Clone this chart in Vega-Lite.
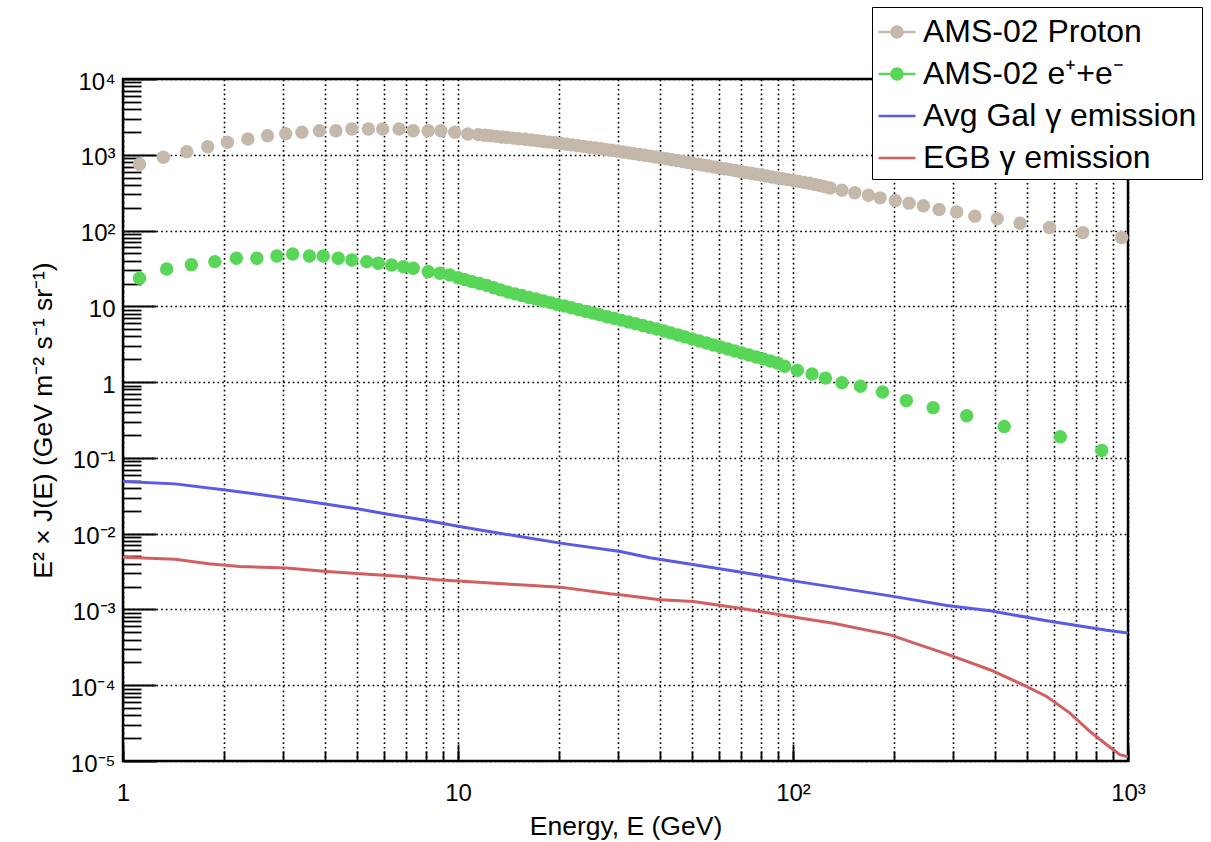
{
"$schema": "https://vega.github.io/schema/vega-lite/v6.json",
"width": 1005, "height": 682,
"autosize": {"type": "none"},
"padding": {"left": 123, "top": 79, "right": 83, "bottom": 81},
"background": "white",
"config": {
 "view": {"stroke": "black", "strokeWidth": 2.5},
 "font": "Liberation Sans",
 "axis": {"domain": false, "tickColor": "black", "tickWidth": 1.8, "gridColor": "black", "gridDash": [1.7, 3], "gridWidth": 1.6, "gridOpacity": 1, "labelColor": "black", "titleColor": "black", "labelFont": "Liberation Sans", "titleFont": "Liberation Sans", "titleFontWeight": "normal", "labelFontSize": 24, "titleFontSize": 26.5}
},
"datasets": {
 "points": [
  {"s":"AMS-02 Proton","E":1.12,"v":750},{"s":"AMS-02 Proton","E":1.32,"v":927},{"s":"AMS-02 Proton","E":1.55,"v":1099},{"s":"AMS-02 Proton","E":1.79,"v":1279},{"s":"AMS-02 Proton","E":2.05,"v":1462},{"s":"AMS-02 Proton","E":2.36,"v":1616},{"s":"AMS-02 Proton","E":2.70,"v":1786},{"s":"AMS-02 Proton","E":3.06,"v":1897},{"s":"AMS-02 Proton","E":3.42,"v":1982},{"s":"AMS-02 Proton","E":3.86,"v":2080},{"s":"AMS-02 Proton","E":4.32,"v":2080},{"s":"AMS-02 Proton","E":4.82,"v":2188},{"s":"AMS-02 Proton","E":5.40,"v":2188},{"s":"AMS-02 Proton","E":5.96,"v":2188},{"s":"AMS-02 Proton","E":6.67,"v":2188},{"s":"AMS-02 Proton","E":7.35,"v":2080},{"s":"AMS-02 Proton","E":8.15,"v":2080},{"s":"AMS-02 Proton","E":8.89,"v":2080},{"s":"AMS-02 Proton","E":9.78,"v":1982},{"s":"AMS-02 Proton","E":10.7,"v":1880},{"s":"AMS-02 Proton","E":11.5,"v":1845},{"s":"AMS-02 Proton","E":12.0,"v":1810},{"s":"AMS-02 Proton","E":12.5,"v":1780},{"s":"AMS-02 Proton","E":13.0,"v":1750},{"s":"AMS-02 Proton","E":13.5,"v":1720},{"s":"AMS-02 Proton","E":14.0,"v":1690},{"s":"AMS-02 Proton","E":14.6,"v":1660},{"s":"AMS-02 Proton","E":15.2,"v":1630},{"s":"AMS-02 Proton","E":15.9,"v":1600},{"s":"AMS-02 Proton","E":16.6,"v":1565},{"s":"AMS-02 Proton","E":17.3,"v":1530},{"s":"AMS-02 Proton","E":18.0,"v":1500},{"s":"AMS-02 Proton","E":18.7,"v":1470},{"s":"AMS-02 Proton","E":19.5,"v":1440},{"s":"AMS-02 Proton","E":20.3,"v":1410},{"s":"AMS-02 Proton","E":21.1,"v":1380},{"s":"AMS-02 Proton","E":21.9,"v":1350},{"s":"AMS-02 Proton","E":22.8,"v":1320},{"s":"AMS-02 Proton","E":23.7,"v":1290},{"s":"AMS-02 Proton","E":24.7,"v":1260},{"s":"AMS-02 Proton","E":25.7,"v":1230},{"s":"AMS-02 Proton","E":26.7,"v":1200},{"s":"AMS-02 Proton","E":27.7,"v":1170},{"s":"AMS-02 Proton","E":28.8,"v":1145},{"s":"AMS-02 Proton","E":29.9,"v":1120},{"s":"AMS-02 Proton","E":31.1,"v":1090},{"s":"AMS-02 Proton","E":32.3,"v":1060},{"s":"AMS-02 Proton","E":33.5,"v":1035},{"s":"AMS-02 Proton","E":34.8,"v":1010},{"s":"AMS-02 Proton","E":36.1,"v":985},{"s":"AMS-02 Proton","E":37.5,"v":960},{"s":"AMS-02 Proton","E":38.9,"v":935},{"s":"AMS-02 Proton","E":40.4,"v":910},{"s":"AMS-02 Proton","E":41.9,"v":885},{"s":"AMS-02 Proton","E":43.5,"v":860},{"s":"AMS-02 Proton","E":45.1,"v":838},{"s":"AMS-02 Proton","E":46.8,"v":815},{"s":"AMS-02 Proton","E":48.5,"v":792},{"s":"AMS-02 Proton","E":50.3,"v":770},{"s":"AMS-02 Proton","E":52.2,"v":750},{"s":"AMS-02 Proton","E":54.1,"v":730},{"s":"AMS-02 Proton","E":56.1,"v":710},{"s":"AMS-02 Proton","E":58.2,"v":690},{"s":"AMS-02 Proton","E":60.3,"v":672},{"s":"AMS-02 Proton","E":62.5,"v":655},{"s":"AMS-02 Proton","E":64.8,"v":637},{"s":"AMS-02 Proton","E":67.2,"v":620},{"s":"AMS-02 Proton","E":69.7,"v":602},{"s":"AMS-02 Proton","E":72.3,"v":585},{"s":"AMS-02 Proton","E":74.9,"v":570},{"s":"AMS-02 Proton","E":77.7,"v":555},{"s":"AMS-02 Proton","E":80.5,"v":540},{"s":"AMS-02 Proton","E":83.4,"v":525},{"s":"AMS-02 Proton","E":86.5,"v":510},{"s":"AMS-02 Proton","E":89.7,"v":495},{"s":"AMS-02 Proton","E":93.0,"v":482},{"s":"AMS-02 Proton","E":96.4,"v":470},{"s":"AMS-02 Proton","E":100,"v":457},{"s":"AMS-02 Proton","E":104,"v":445},{"s":"AMS-02 Proton","E":108,"v":432},{"s":"AMS-02 Proton","E":112,"v":420},{"s":"AMS-02 Proton","E":116,"v":407},{"s":"AMS-02 Proton","E":120,"v":395},{"s":"AMS-02 Proton","E":124,"v":380},{"s":"AMS-02 Proton","E":129,"v":365},{"s":"AMS-02 Proton","E":140,"v":340},{"s":"AMS-02 Proton","E":153,"v":315},{"s":"AMS-02 Proton","E":168,"v":293},{"s":"AMS-02 Proton","E":182,"v":270},{"s":"AMS-02 Proton","E":202,"v":250},{"s":"AMS-02 Proton","E":222,"v":230},{"s":"AMS-02 Proton","E":245,"v":212},{"s":"AMS-02 Proton","E":273,"v":190},{"s":"AMS-02 Proton","E":308,"v":176},{"s":"AMS-02 Proton","E":349,"v":155},{"s":"AMS-02 Proton","E":407,"v":143},{"s":"AMS-02 Proton","E":476,"v":125},{"s":"AMS-02 Proton","E":583,"v":110},{"s":"AMS-02 Proton","E":733,"v":94},{"s":"AMS-02 Proton","E":958,"v":81},
  {"s":"AMS-02 e⁺+e⁻","E":1.12,"v":23.5},{"s":"AMS-02 e⁺+e⁻","E":1.35,"v":31.1},{"s":"AMS-02 e⁺+e⁻","E":1.60,"v":35.5},{"s":"AMS-02 e⁺+e⁻","E":1.88,"v":38.9},{"s":"AMS-02 e⁺+e⁻","E":2.18,"v":43.1},{"s":"AMS-02 e⁺+e⁻","E":2.51,"v":43.1},{"s":"AMS-02 e⁺+e⁻","E":2.88,"v":46.2},{"s":"AMS-02 e⁺+e⁻","E":3.21,"v":49.1},{"s":"AMS-02 e⁺+e⁻","E":3.60,"v":46.2},{"s":"AMS-02 e⁺+e⁻","E":3.96,"v":46.2},{"s":"AMS-02 e⁺+e⁻","E":4.39,"v":43.1},{"s":"AMS-02 e⁺+e⁻","E":4.82,"v":40.9},{"s":"AMS-02 e⁺+e⁻","E":5.34,"v":38.9},{"s":"AMS-02 e⁺+e⁻","E":5.78,"v":37.0},{"s":"AMS-02 e⁺+e⁻","E":6.34,"v":35.2},{"s":"AMS-02 e⁺+e⁻","E":6.87,"v":33.4},{"s":"AMS-02 e⁺+e⁻","E":7.35,"v":31.8},{"s":"AMS-02 e⁺+e⁻","E":8.15,"v":28.7},{"s":"AMS-02 e⁺+e⁻","E":8.83,"v":27.3},{"s":"AMS-02 e⁺+e⁻","E":9.45,"v":25.9},{"s":"AMS-02 e⁺+e⁻","E":10.0,"v":23.8},{"s":"AMS-02 e⁺+e⁻","E":10.5,"v":22.5},{"s":"AMS-02 e⁺+e⁻","E":11.0,"v":21.2},{"s":"AMS-02 e⁺+e⁻","E":11.6,"v":20.0},{"s":"AMS-02 e⁺+e⁻","E":12.2,"v":18.9},{"s":"AMS-02 e⁺+e⁻","E":12.8,"v":17.6},{"s":"AMS-02 e⁺+e⁻","E":13.4,"v":16.5},{"s":"AMS-02 e⁺+e⁻","E":14.1,"v":15.4},{"s":"AMS-02 e⁺+e⁻","E":14.8,"v":14.6},{"s":"AMS-02 e⁺+e⁻","E":15.5,"v":13.9},{"s":"AMS-02 e⁺+e⁻","E":16.3,"v":13.1},{"s":"AMS-02 e⁺+e⁻","E":17.1,"v":12.5},{"s":"AMS-02 e⁺+e⁻","E":18.0,"v":11.8},{"s":"AMS-02 e⁺+e⁻","E":18.9,"v":11.2},{"s":"AMS-02 e⁺+e⁻","E":19.8,"v":10.6},{"s":"AMS-02 e⁺+e⁻","E":20.8,"v":10.1},{"s":"AMS-02 e⁺+e⁻","E":21.8,"v":9.57},{"s":"AMS-02 e⁺+e⁻","E":22.9,"v":9.06},{"s":"AMS-02 e⁺+e⁻","E":24.1,"v":8.57},{"s":"AMS-02 e⁺+e⁻","E":25.3,"v":8.13},{"s":"AMS-02 e⁺+e⁻","E":26.5,"v":7.73},{"s":"AMS-02 e⁺+e⁻","E":27.9,"v":7.30},{"s":"AMS-02 e⁺+e⁻","E":29.3,"v":6.93},{"s":"AMS-02 e⁺+e⁻","E":30.7,"v":6.58},{"s":"AMS-02 e⁺+e⁻","E":32.3,"v":6.22},{"s":"AMS-02 e⁺+e⁻","E":33.9,"v":5.89},{"s":"AMS-02 e⁺+e⁻","E":35.6,"v":5.59},{"s":"AMS-02 e⁺+e⁻","E":37.3,"v":5.30},{"s":"AMS-02 e⁺+e⁻","E":39.2,"v":5.02},{"s":"AMS-02 e⁺+e⁻","E":41.2,"v":4.72},{"s":"AMS-02 e⁺+e⁻","E":43.2,"v":4.46},{"s":"AMS-02 e⁺+e⁻","E":45.4,"v":4.19},{"s":"AMS-02 e⁺+e⁻","E":47.6,"v":3.95},{"s":"AMS-02 e⁺+e⁻","E":50.0,"v":3.71},{"s":"AMS-02 e⁺+e⁻","E":52.5,"v":3.49},{"s":"AMS-02 e⁺+e⁻","E":55.2,"v":3.28},{"s":"AMS-02 e⁺+e⁻","E":57.9,"v":3.09},{"s":"AMS-02 e⁺+e⁻","E":60.8,"v":2.91},{"s":"AMS-02 e⁺+e⁻","E":63.9,"v":2.73},{"s":"AMS-02 e⁺+e⁻","E":67.0,"v":2.58},{"s":"AMS-02 e⁺+e⁻","E":70.4,"v":2.42},{"s":"AMS-02 e⁺+e⁻","E":73.9,"v":2.28},{"s":"AMS-02 e⁺+e⁻","E":77.6,"v":2.15},{"s":"AMS-02 e⁺+e⁻","E":81.5,"v":2.02},{"s":"AMS-02 e⁺+e⁻","E":85.6,"v":1.90},{"s":"AMS-02 e⁺+e⁻","E":89.9,"v":1.79},{"s":"AMS-02 e⁺+e⁻","E":94.4,"v":1.62},{"s":"AMS-02 e⁺+e⁻","E":103,"v":1.43},{"s":"AMS-02 e⁺+e⁻","E":114,"v":1.28},{"s":"AMS-02 e⁺+e⁻","E":125,"v":1.13},{"s":"AMS-02 e⁺+e⁻","E":140,"v":0.98},{"s":"AMS-02 e⁺+e⁻","E":159,"v":0.88},{"s":"AMS-02 e⁺+e⁻","E":185,"v":0.74},{"s":"AMS-02 e⁺+e⁻","E":218,"v":0.57},{"s":"AMS-02 e⁺+e⁻","E":262,"v":0.46},{"s":"AMS-02 e⁺+e⁻","E":330,"v":0.36},{"s":"AMS-02 e⁺+e⁻","E":427,"v":0.26},{"s":"AMS-02 e⁺+e⁻","E":628,"v":0.19},{"s":"AMS-02 e⁺+e⁻","E":835,"v":0.125}
 ],
 "lines": [
  {"s":"Avg Gal γ emission","E":1,"v":0.0487},{"s":"Avg Gal γ emission","E":1.43,"v":0.0454},{"s":"Avg Gal γ emission","E":2.02,"v":0.0378},{"s":"Avg Gal γ emission","E":3.08,"v":0.0294},{"s":"Avg Gal γ emission","E":4.06,"v":0.0245},{"s":"Avg Gal γ emission","E":5.10,"v":0.0210},{"s":"Avg Gal γ emission","E":6.12,"v":0.0182},{"s":"Avg Gal γ emission","E":8.07,"v":0.0149},{"s":"Avg Gal γ emission","E":10.1,"v":0.0124},{"s":"Avg Gal γ emission","E":15.3,"v":0.00916},{"s":"Avg Gal γ emission","E":20.2,"v":0.0075},{"s":"Avg Gal γ emission","E":30.5,"v":0.0058},{"s":"Avg Gal γ emission","E":37.4,"v":0.0048},{"s":"Avg Gal γ emission","E":69.5,"v":0.00313},{"s":"Avg Gal γ emission","E":98,"v":0.00242},{"s":"Avg Gal γ emission","E":195,"v":0.00151},{"s":"Avg Gal γ emission","E":288,"v":0.00113},{"s":"Avg Gal γ emission","E":387,"v":0.00096},{"s":"Avg Gal γ emission","E":572,"v":0.000708},{"s":"Avg Gal γ emission","E":864,"v":0.00053},{"s":"Avg Gal γ emission","E":1000,"v":0.00049},
  {"s":"EGB γ emission","E":1,"v":0.0049},{"s":"EGB γ emission","E":1.43,"v":0.00461},{"s":"EGB γ emission","E":1.80,"v":0.0040},{"s":"EGB γ emission","E":2.23,"v":0.00368},{"s":"EGB γ emission","E":3.08,"v":0.00351},{"s":"EGB γ emission","E":4.06,"v":0.00316},{"s":"EGB γ emission","E":5.10,"v":0.00295},{"s":"EGB γ emission","E":6.87,"v":0.00272},{"s":"EGB γ emission","E":8.64,"v":0.00246},{"s":"EGB γ emission","E":10.6,"v":0.00233},{"s":"EGB γ emission","E":15.3,"v":0.00211},{"s":"EGB γ emission","E":20.2,"v":0.00197},{"s":"EGB γ emission","E":28.4,"v":0.00161},{"s":"EGB γ emission","E":30.5,"v":0.00156},{"s":"EGB γ emission","E":40.1,"v":0.00134},{"s":"EGB γ emission","E":50.4,"v":0.00127},{"s":"EGB γ emission","E":69.5,"v":0.00104},{"s":"EGB γ emission","E":98,"v":0.000806},{"s":"EGB γ emission","E":132,"v":0.000659},{"s":"EGB γ emission","E":195,"v":0.000462},{"s":"EGB γ emission","E":288,"v":0.000257},{"s":"EGB γ emission","E":387,"v":0.00016},{"s":"EGB γ emission","E":487,"v":0.000101},{"s":"EGB γ emission","E":572,"v":0.000071},{"s":"EGB γ emission","E":671,"v":0.0000429},{"s":"EGB γ emission","E":770,"v":0.0000245},{"s":"EGB γ emission","E":864,"v":0.0000164},{"s":"EGB γ emission","E":946,"v":0.0000121},{"s":"EGB γ emission","E":1000,"v":0.0000114}
 ]
},
"layer": [
 {
  "data": {"name": "lines"},
  "mark": {"type": "point", "filled": false, "opacity": 0},
  "encoding": {
   "x": {"field": "E", "type": "quantitative", "scale": {"type": "log", "domain": [1, 1000], "nice": false}, "axis": null},
   "y": {"field": "v", "type": "quantitative", "scale": {"type": "log", "domain": [0.00001, 10000], "nice": false}, "axis": null},
   "color": {"field": "s", "type": "nominal",
    "scale": {"domain": ["AMS-02 Proton", "AMS-02 e⁺+e⁻", "Avg Gal γ emission", "EGB γ emission"], "range": ["#c4b8ab", "#57d657", "#5a5ae6", "#d25f5f"]},
    "legend": {"title": null, "orient": "none", "legendX": 749, "legendY": -72, "labelFontSize": 32, "labelFont": "Liberation Sans", "labelColor": "black", "symbolSize": 1369, "symbolStrokeWidth": 2.5, "symbolOpacity": 1, "strokeColor": "black", "fillColor": "white", "padding": 5, "rowPadding": 6, "labelOffset": 6, "labelLimit": 500}},
   "shape": {"field": "s", "type": "nominal",
    "scale": {"domain": ["AMS-02 Proton", "AMS-02 e⁺+e⁻", "Avg Gal γ emission", "EGB γ emission"],
     "range": ["M-1,0L1,0M0.3,0A0.3,0.3,0,1,1,-0.3,0A0.3,0.3,0,1,1,0.3,0M0.2,0A0.2,0.2,0,1,1,-0.2,0A0.2,0.2,0,1,1,0.2,0M0.1,0A0.1,0.1,0,1,1,-0.1,0A0.1,0.1,0,1,1,0.1,0", "M-1,0L1,0M0.3,0A0.3,0.3,0,1,1,-0.3,0A0.3,0.3,0,1,1,0.3,0M0.2,0A0.2,0.2,0,1,1,-0.2,0A0.2,0.2,0,1,1,0.2,0M0.1,0A0.1,0.1,0,1,1,-0.1,0A0.1,0.1,0,1,1,0.1,0", "M-1,0L1,0", "M-1,0L1,0"]},
    "legend": {"title": null, "orient": "none", "legendX": 749, "legendY": -72, "labelFontSize": 32, "labelFont": "Liberation Sans", "labelColor": "black", "symbolSize": 1369, "symbolStrokeWidth": 2.5, "symbolOpacity": 1, "strokeColor": "black", "fillColor": "white", "padding": 5, "rowPadding": 6, "labelOffset": 6, "labelLimit": 500}}
  }
 },
 {
  "data": {"name": "lines"},
  "mark": {"type": "line", "strokeWidth": 3, "clip": true},
  "encoding": {
   "x": {"field": "E", "type": "quantitative",
    "axis": {"orient": "bottom", "values": [1,2,3,4,5,6,7,8,9,10,20,30,40,50,60,70,80,90,100,200,300,400,500,600,700,800,900,1000], "grid": true, "ticks": true, "tickSize": -10, "labels": false, "title": null}},
   "y": {"field": "v", "type": "quantitative",
    "axis": {"orient": "left", "values": [0.00001,0.0001,0.001,0.01,0.1,1,10,100,1000,10000], "grid": true, "tickSize": -33, "labels": true, "labelPadding": 41, "labelOffset": 3, "labelFontSize": 24,
     "labelExpr": "round(log(datum.value)/LN10) == 0 ? '1' : round(log(datum.value)/LN10) == 1 ? '10' : round(log(datum.value)/LN10) == 2 ? '10²' : round(log(datum.value)/LN10) == 3 ? '10³' : round(log(datum.value)/LN10) == 4 ? '10⁴' : round(log(datum.value)/LN10) == -1 ? '10⁻¹' : round(log(datum.value)/LN10) == -2 ? '10⁻²' : round(log(datum.value)/LN10) == -3 ? '10⁻³' : round(log(datum.value)/LN10) == -4 ? '10⁻⁴' : '10⁻⁵'",
     "title": "E² × J(E) (GeV m⁻² s⁻¹ sr⁻¹)", "titlePadding": 12}},
   "color": {"field": "s", "type": "nominal"}
  }
 },
 {
  "data": {"name": "points"},
  "mark": {"type": "point", "filled": true, "size": 180, "opacity": 1, "shape": "circle"},
  "encoding": {
   "x": {"field": "E", "type": "quantitative",
    "axis": {"orient": "bottom", "values": [1, 10, 100, 1000], "grid": false, "tickSize": -17, "labels": true, "labelPadding": 37, "labelFlush": false, "labelOverlap": false,
     "labelExpr": "round(log(datum.value)/LN10) == 0 ? '1' : round(log(datum.value)/LN10) == 1 ? '10' : round(log(datum.value)/LN10) == 2 ? '10²' : '10³'",
     "title": "Energy, E (GeV)", "titlePadding": 8}},
   "y": {"field": "v", "type": "quantitative",
    "axis": {"orient": "left", "values": [0.00002,0.00003,0.00004,0.00005,0.00006,0.00007,0.00008,0.00009,0.0002,0.0003,0.0004,0.0005,0.0006,0.0007,0.0008,0.0009,0.002,0.003,0.004,0.005,0.006,0.007,0.008,0.009,0.02,0.03,0.04,0.05,0.06,0.07,0.08,0.09,0.2,0.3,0.4,0.5,0.6,0.7,0.8,0.9,2,3,4,5,6,7,8,9,20,30,40,50,60,70,80,90,200,300,400,500,600,700,800,900,2000,3000,4000,5000,6000,7000,8000,9000], "grid": false, "tickSize": -18, "labels": false, "title": null}},
   "color": {"field": "s", "type": "nominal"}
  }
 }
],
"resolve": {"axis": {"x": "independent", "y": "independent"}}
}
